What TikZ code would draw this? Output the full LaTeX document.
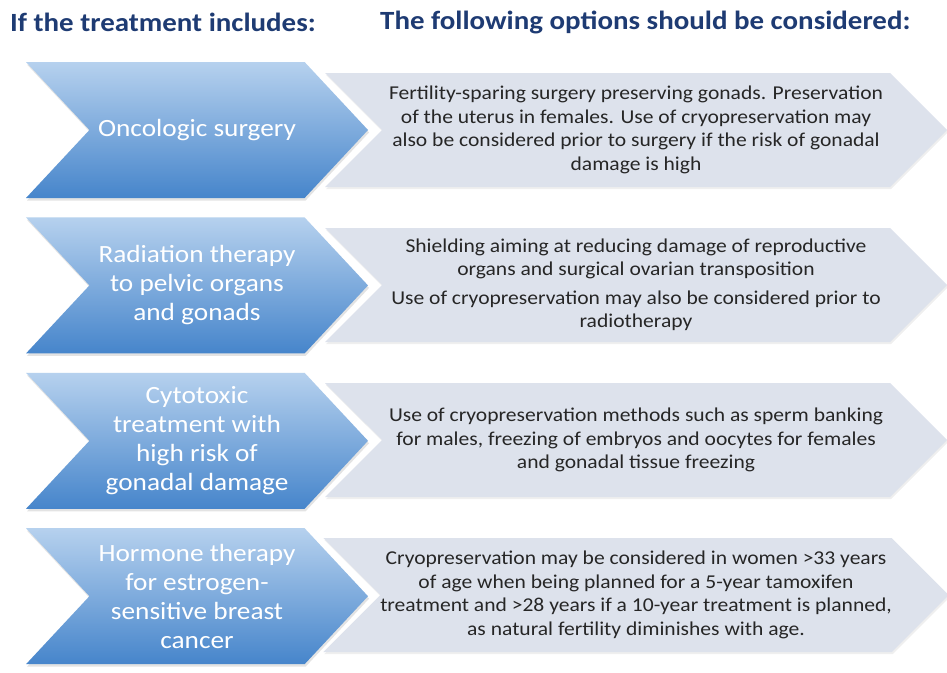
\documentclass[tikz,border=0pt]{standalone}
\usepackage{fontspec}
\setmainfont{Carlito}[FakeStretch=1.1]
\usepackage{xcolor}
\usetikzlibrary{positioning,shapes.symbols,shadows}
\definecolor{headblue}{HTML}{1E3B73}
\definecolor{treattop}{HTML}{B6D1EE}
\definecolor{treatbot}{HTML}{4685CB}
\definecolor{optfill}{HTML}{DDE2EC}
\definecolor{opttext}{HTML}{262626}
\tikzstyle{head}=[anchor=west, inner sep=0pt, text=headblue,
  font=\fontsize{26.3}{30}\selectfont\bfseries]
\tikzstyle{treat}=[signal, signal from=west, signal to=east, signal pointer angle=94,
  minimum width=342pt, minimum height=136pt, inner sep=0pt, align=center,
  top color=treattop, bottom color=treatbot, text=white,
  drop shadow={opacity=0.22, shadow xshift=1pt, shadow yshift=-2.5pt},
  font=\fontsize{24.8}{29}\selectfont]
\tikzstyle{opt}=[signal, signal from=west, signal to=east, signal pointer angle=90,
  minimum width=622pt, minimum height=114pt, inner sep=0pt, align=center,
  fill=optfill, text=opttext,
  drop shadow={opacity=0.12, shadow xshift=1pt, shadow yshift=-2pt},
  font=\fontsize{19.6}{23.5}\selectfont]

\begin{document}
\begin{tikzpicture}[x=1pt,y=-1pt,node distance=19pt]
\useasboundingbox[fill=white] (0,0) rectangle (947,672);
\node[head] (hl) at (10,22) {If the treatment includes:};
\node[head] (hr) at (380,22) {The following options should be considered:};
% treatment column
\node[treat] (surg) at (197,130) {Oncologic surgery};
\node[treat,below=of surg] (rad) {Radiation therapy\\to pelvic organs\\and gonads};
\node[treat,below=of rad] (cyto) {Cytotoxic\\treatment with\\high risk of\\gonadal damage};
\node[treat,below=of cyto] (horm) {Hormone therapy\\for estrogen-\\sensitive breast\\cancer};
% options column
\node[opt] (osurg) at (636,130) {Fertility-sparing surgery preserving gonads. Preservation\\of the uterus in females. Use of cryopreservation may\\also be considered prior to surgery if the risk of gonadal\\damage is high};
\node[opt] (orad) at (636,285) {Shielding aiming at reducing damage of reproductive\\organs and surgical ovarian transposition\\[5pt]Use of cryopreservation may also be considered prior to\\radiotherapy};
\node[opt] (ocyto) at (636,440) {Use of cryopreservation methods such as sperm banking\\for males, freezing of embryos and oocytes for females\\and gonadal tissue freezing};
\node[opt] (ohorm) at (636,595) {Cryopreservation may be considered in women >33 years\\of age when being planned for a 5-year tamoxifen\\treatment and >28 years if a 10-year treatment is planned,\\as natural fertility diminishes with age.};
\end{tikzpicture}
\end{document}
